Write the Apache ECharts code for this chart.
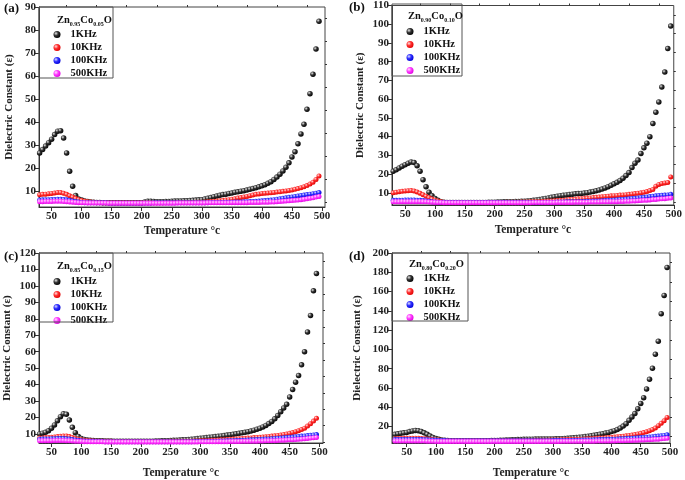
<!DOCTYPE html>
<html><head><meta charset="utf-8">
<script src="https://cdn.jsdelivr.net/npm/echarts@6/dist/echarts.min.js"></script>
<style>html,body{margin:0;padding:0;background:#fff}#c{width:685px;height:480px}</style>
</head><body><div id="c"></div><script>
const temps=[30,35,40,45,50,55,60,65,70,75,80,85,90,95,100,105,110,115,120,125,130,135,140,145,150,155,160,165,170,175,180,185,190,195,200,205,210,215,220,225,230,235,240,245,250,255,260,265,270,275,280,285,290,295,300,305,310,315,320,325,330,335,340,345,350,355,360,365,370,375,380,385,390,395,400,405,410,415,420,425,430,435,440,445,450,455,460,465,470,475,480,485,490,495];
const seriesNames=['1KHz','10KHz','100KHz','500KHz'];
const xTicks=[50,100,150,200,250,300,350,400,450,500];
const xMinor=[75,125,175,225,275,325,375,425,475];
const yTicksA=[10,20,30,40,50,60,70,80,90];
const yTicksB=[10,20,30,40,50,60,70,80,90,100,110];
const yTicksC=[10,20,30,40,50,60,70,80,90,100,110,120];
const yTicksD=[20,40,60,80,100,120,140,160,180,200];

// (a) Zn0.95Co0.05O
const a1k=[26.5,28,29.5,31,32.5,34.5,36,36.2,33,26.5,
18.5,12,8,6.5,6,5.6,5.4,5.2,5.1,5,
5,4.9,4.9,4.9,4.8,4.8,4.8,4.8,4.8,4.8,
4.8,4.8,4.8,4.8,4.9,5.2,5.5,5.5,5.4,5.3,
5.3,5.3,5.4,5.4,5.5,5.6,5.6,5.6,5.7,5.7,
5.8,5.9,6,6.1,6.2,6.5,6.8,7.1,7.5,7.8,
8.1,8.4,8.6,8.9,9.1,9.4,9.6,9.9,10.1,10.4,
10.7,11,11.4,11.8,12.2,12.7,13.3,14,15,16,
17.3,18.7,20.3,22.2,24.8,27,30.5,34.8,39,45.5,
52.3,60.8,71.7,83.8];
const a10k=[8.3,8.5,8.6,8.8,8.9,9.1,9.3,9.3,9,8.5,
7.9,7.3,6.7,6.2,5.8,5.5,5.3,5.2,5.1,5,
5,4.9,4.9,4.9,4.8,4.8,4.8,4.8,4.8,4.8,
4.8,4.8,4.8,4.8,4.8,4.9,4.9,4.9,4.9,4.9,
4.9,4.9,5,5,5,5,5,5,5,5,
5,5,5.1,5.1,5.1,5.2,5.3,5.4,5.5,5.6,
5.7,5.9,6,6.2,6.4,6.6,6.9,7.1,7.4,7.6,
7.9,8.2,8.5,8.7,8.9,9,9.1,9.2,9.3,9.5,
9.6,9.8,10,10.2,10.4,10.7,11,11.4,11.8,12.3,
13,13.8,15,16.5];
const a100k=[6,6.1,6.2,6.2,6.3,6.3,6.4,6.4,6.3,6.1,
5.9,5.6,5.4,5.2,5,4.9,4.9,4.8,4.8,4.8,
4.8,4.8,4.8,4.7,4.7,4.7,4.7,4.7,4.7,4.7,
4.7,4.7,4.7,4.7,4.7,4.7,4.7,4.7,4.8,4.8,
4.8,4.8,4.8,4.8,4.8,4.8,4.8,4.8,4.8,4.8,
4.8,4.8,4.9,4.9,4.9,4.9,4.9,5,5,5,
5,5,5.1,5.1,5.1,5.2,5.2,5.2,5.3,5.3,
5.4,5.4,5.5,5.6,5.7,5.8,5.9,6,6.2,6.4,
6.6,6.8,7,7.2,7.4,7.6,7.8,8,8.2,8.4,
8.6,8.8,9,9.3];
const a500k=[5.3,5.3,5.4,5.4,5.4,5.5,5.5,5.5,5.4,5.3,
5.2,5.1,5,4.9,4.8,4.8,4.7,4.7,4.7,4.7,
4.7,4.7,4.7,4.6,4.6,4.6,4.6,4.6,4.6,4.6,
4.6,4.6,4.6,4.6,4.6,4.6,4.6,4.6,4.6,4.6,
4.6,4.6,4.6,4.6,4.6,4.6,4.7,4.7,4.7,4.7,
4.7,4.7,4.7,4.7,4.7,4.7,4.8,4.8,4.8,4.8,
4.8,4.8,4.8,4.8,4.9,4.9,4.9,4.9,4.9,4.9,
5,5,5,5,5.1,5.1,5.1,5.2,5.2,5.3,
5.4,5.5,5.6,5.7,5.8,5.9,6,6.2,6.4,6.6,
6.8,7,7.3,7.6];

// (b) Zn0.90Co0.10O
const b1k=[21.5,22.3,23.3,24.2,25,25.8,26.5,26.2,24.5,21.5,
17,13.2,10.3,8.5,7,6,5.3,5,4.9,4.8,
4.8,4.8,4.8,4.8,4.8,4.8,4.8,4.9,4.9,4.9,
4.9,4.9,5,5,5,5.1,5.1,5.2,5.2,5.3,
5.3,5.4,5.4,5.5,5.5,5.6,5.8,6,6.2,6.4,
6.7,7,7.3,7.6,7.9,8.2,8.5,8.7,8.9,9.1,
9.3,9.5,9.6,9.7,9.9,10.1,10.4,10.7,11.1,11.5,
12,12.6,13.3,14,14.8,15.6,16.6,17.8,19.2,20.8,
23.5,25.8,27.5,31,34,36.5,40,47,53,58.5,
66.5,74.5,87,99];
const b10k=[10,10.3,10.6,10.8,11,11.1,11.2,11,10.5,9.8,
9,8.2,7.4,6.7,6.1,5.6,5.2,5,4.9,4.9,
4.8,4.8,4.8,4.8,4.8,4.8,4.8,4.8,4.8,4.8,
4.8,4.8,4.8,4.9,4.9,4.9,4.9,4.9,5,5,
5,5,5,5.1,5.1,5.1,5.2,5.2,5.3,5.3,
5.4,5.5,5.6,5.7,5.8,5.9,6,6.1,6.2,6.4,
6.5,6.6,6.8,6.9,7,7.2,7.3,7.5,7.6,7.8,
7.9,8.1,8.2,8.4,8.5,8.6,8.8,8.9,9,9.2,
9.4,9.6,9.8,10,10.3,10.7,11.2,11.8,13.5,14.5,
15,15.3,15.5,18.5];
const b100k=[6,6,6.1,6.1,6.2,6.2,6.2,6.2,6.1,6,
5.9,5.7,5.5,5.3,5.1,5,4.9,4.9,4.8,4.8,
4.8,4.8,4.8,4.8,4.8,4.8,4.8,4.8,4.8,4.8,
4.8,4.8,4.8,4.8,4.8,4.8,4.8,4.8,4.8,4.8,
4.8,4.8,4.8,4.8,4.9,4.9,4.9,4.9,4.9,4.9,
4.9,5,5,5,5,5.1,5.1,5.1,5.2,5.2,
5.2,5.3,5.3,5.4,5.4,5.5,5.5,5.6,5.6,5.7,
5.8,5.9,6,6.1,6.2,6.3,6.4,6.5,6.7,6.8,
7,7.1,7.3,7.5,7.6,7.8,8,8.2,8.4,8.6,
8.7,8.8,8.9,9.2];
const b500k=[5.2,5.2,5.2,5.3,5.3,5.3,5.3,5.3,5.3,5.3,
5.2,5.2,5.1,5,4.9,4.8,4.8,4.7,4.7,4.7,
4.7,4.7,4.7,4.7,4.7,4.7,4.7,4.7,4.7,4.7,
4.7,4.7,4.7,4.7,4.7,4.7,4.7,4.7,4.7,4.7,
4.7,4.7,4.7,4.7,4.7,4.7,4.7,4.8,4.8,4.8,
4.8,4.8,4.8,4.8,4.8,4.9,4.9,4.9,4.9,4.9,
4.9,5,5,5,5,5,5.1,5.1,5.1,5.1,
5.2,5.2,5.2,5.3,5.3,5.3,5.4,5.4,5.5,5.5,
5.6,5.7,5.8,5.9,6,6.1,6.2,6.4,6.5,6.7,
6.8,6.9,7.1,7.3];

// (c) Zn0.85Co0.15O
const c1k=[10,10.5,11,12,13.5,15.5,18,20.5,22.3,22,
18.5,14,10.8,8.5,7.3,6.7,6.3,6.1,6,5.9,
5.8,5.8,5.7,5.7,5.7,5.6,5.6,5.6,5.6,5.5,
5.5,5.5,5.5,5.5,5.5,5.5,5.6,5.6,5.6,5.7,
5.7,5.8,5.8,5.9,6,6.1,6.2,6.3,6.4,6.5,
6.6,6.8,7,7.2,7.4,7.6,7.8,8,8.2,8.4,
8.6,8.8,9,9.3,9.5,9.8,10.1,10.4,10.7,11,
11.4,11.8,12.3,12.9,13.5,14.3,15.2,16.3,17.6,19.2,
21.2,23.5,25.8,28,32.5,37,41.5,45.5,52,60,
72,82,97,107.5];
const c10k=[7.5,7.6,7.8,7.9,8,8.2,8.4,8.6,8.8,8.8,
8.4,7.9,7.3,6.8,6.4,6.1,5.9,5.8,5.7,5.6,
5.6,5.5,5.5,5.5,5.5,5.4,5.4,5.4,5.4,5.4,
5.4,5.4,5.4,5.4,5.4,5.4,5.4,5.4,5.4,5.4,
5.4,5.4,5.4,5.4,5.5,5.5,5.5,5.5,5.5,5.6,
5.6,5.6,5.7,5.7,5.8,5.8,5.9,6,6.1,6.2,
6.3,6.4,6.5,6.6,6.8,6.9,7,7.1,7.3,7.4,
7.5,7.6,7.8,7.9,8,8.2,8.3,8.5,8.7,8.9,
9.1,9.4,9.7,10,10.4,10.9,11.4,12,12.7,13.5,
14.8,16.2,17.8,19.5];
const c100k=[6.8,6.9,7,7,7.1,7.1,7.2,7.2,7.2,7.1,
6.9,6.6,6.3,6.1,5.9,5.7,5.6,5.5,5.5,5.4,
5.4,5.4,5.3,5.3,5.3,5.3,5.3,5.3,5.3,5.3,
5.3,5.3,5.3,5.3,5.3,5.3,5.3,5.3,5.3,5.3,
5.3,5.3,5.3,5.3,5.3,5.3,5.3,5.3,5.3,5.3,
5.3,5.3,5.4,5.4,5.4,5.4,5.5,5.5,5.5,5.6,
5.6,5.7,5.7,5.8,5.8,5.9,6,6,6.1,6.2,
6.3,6.4,6.5,6.6,6.7,6.8,6.9,7,7.1,7.3,
7.4,7.5,7.7,7.8,8,8.1,8.3,8.5,8.7,8.8,
9,9.2,9.4,9.6];
const c500k=[5.8,5.8,5.9,5.9,5.9,6,6,6,6,5.9,
5.8,5.7,5.6,5.5,5.4,5.3,5.3,5.2,5.2,5.2,
5.2,5.2,5.1,5.1,5.1,5.1,5.1,5.1,5.1,5.1,
5.1,5.1,5.1,5.1,5.1,5.1,5.1,5.1,5.1,5.1,
5.1,5.1,5.1,5.1,5.1,5.1,5.1,5.1,5.1,5.1,
5.1,5.1,5.1,5.1,5.2,5.2,5.2,5.2,5.2,5.2,
5.3,5.3,5.3,5.3,5.4,5.4,5.4,5.4,5.5,5.5,
5.5,5.6,5.6,5.6,5.7,5.7,5.8,5.8,5.9,5.9,
6,6.1,6.2,6.3,6.4,6.5,6.6,6.8,6.9,7.1,
7.3,7.5,7.7,7.9];

// (d) Zn0.80Co0.20O
const d1k=[12,12.5,13,13.5,14,14.8,15.5,16,15.8,15,
13.5,12,10.3,8.8,7.6,6.8,6.2,5.8,5.5,5.3,
5.2,5.1,5.1,5,5,5,5,5,5.1,5.1,
5.2,5.3,5.4,5.5,5.6,5.7,5.8,5.9,6,6.1,
6.3,6.4,6.5,6.6,6.8,6.9,7,7,7.1,7.1,
7.1,7.1,7.1,7.2,7.2,7.3,7.4,7.5,7.7,7.9,
8.1,8.4,8.7,9,9.3,9.7,10.1,10.5,11,11.5,
12,12.6,13.3,14,14.8,15.8,17,18.5,20.5,23,
26.5,30,33.5,38.5,44,50,59,69,80.5,95,
108.5,137,156,185];
const d10k=[7.5,7.6,7.7,7.8,7.9,8,8,8,7.9,7.7,
7.4,7.1,6.8,6.5,6.2,6,5.8,5.7,5.6,5.5,
5.5,5.5,5.5,5.5,5.5,5.5,5.5,5.5,5.5,5.5,
5.5,5.5,5.5,5.5,5.5,5.5,5.5,5.5,5.5,5.5,
5.5,5.5,5.6,5.6,5.6,5.7,5.7,5.7,5.8,5.8,
5.8,5.9,5.9,6,6,6.1,6.2,6.3,6.4,6.5,
6.6,6.7,6.8,6.9,7,7.2,7.3,7.5,7.7,7.9,
8.1,8.3,8.5,8.7,8.9,9.2,9.5,9.8,10.1,10.5,
10.9,11.3,11.8,12.4,13,13.8,14.7,15.8,17,18.5,
21,23.5,26,29.5];
const d100k=[6.5,6.5,6.6,6.6,6.6,6.7,6.7,6.7,6.6,6.5,
6.4,6.3,6.1,6,5.8,5.7,5.6,5.5,5.4,5.4,
5.3,5.3,5.3,5.3,5.3,5.3,5.3,5.3,5.3,5.3,
5.3,5.3,5.3,5.3,5.3,5.3,5.3,5.3,5.3,5.3,
5.3,5.3,5.3,5.3,5.3,5.3,5.3,5.3,5.3,5.3,
5.3,5.4,5.4,5.4,5.5,5.5,5.5,5.6,5.6,5.7,
5.7,5.8,5.8,5.9,6,6,6.1,6.2,6.3,6.4,
6.5,6.6,6.7,6.8,6.9,7,7.2,7.3,7.5,7.6,
7.8,8,8.2,8.4,8.6,8.8,9,9.3,9.6,9.9,
10.2,10.5,10.9,11.5];
const d500k=[5,5,5,5.1,5.1,5.1,5.1,5.1,5.1,5,
5,4.9,4.8,4.7,4.6,4.6,4.5,4.5,4.5,4.5,
4.5,4.5,4.5,4.5,4.5,4.5,4.5,4.5,4.5,4.5,
4.5,4.5,4.5,4.5,4.5,4.5,4.5,4.5,4.5,4.5,
4.5,4.5,4.5,4.5,4.5,4.5,4.5,4.5,4.5,4.5,
4.5,4.5,4.6,4.6,4.6,4.6,4.6,4.7,4.7,4.7,
4.7,4.7,4.8,4.8,4.8,4.8,4.9,4.9,4.9,5,
5,5,5.1,5.1,5.2,5.2,5.3,5.3,5.4,5.5,
5.6,5.7,5.8,5.9,6,6.1,6.3,6.4,6.6,6.8,
7,7.3,7.6,8];

const FONT='"Liberation Serif","Times New Roman",serif';
function ball(c0,c1,c2){return {type:'radial',x:0.35,y:0.35,r:0.7,colorStops:[{offset:0,color:c0},{offset:0.45,color:c1},{offset:1,color:c2}]};}
const styles=[
  {color:ball('#e8e8e8','#333','#000'),size:5.5},
  {color:ball('#ffe0e0','#ff3030','#e00000'),size:5},
  {color:ball('#e0e0ff','#3030ff','#0000d8'),size:5},
  {color:ball('#ffe0ff','#ff40ff','#e000e0'),size:5}
];

const panels=[
 {label:'(a)',sub:['0.95','0.05'],grid:{left:39,top:7,width:286,height:200},x:[29,505],y:[3,90],yt:yTicksA,ym:[5,15,25,35,45,55,65,75,85],data:[a1k,a10k,a100k,a500k],
  box:[39,7,74,71],tp:[57,19],lp:[53.5,28.5],yGap:24,xGap:18,lab:[4,9]},
 {label:'(b)',sub:['0.90','0.10'],grid:{left:392,top:4,width:285,height:201},x:[28,500],y:[3.5,110],yt:yTicksB,ym:[5,15,25,35,45,55,65,75,85,95,105],data:[b1k,b10k,b100k,b500k],
  box:[392,4,70,72],tp:[408,15],lp:[406.5,25.5],yGap:26,xGap:19,lab:[349,8]},
 {label:'(c)',sub:['0.85','0.15'],grid:{left:39,top:253,width:284,height:195},x:[29,506],y:[4.5,120],yt:yTicksC,ym:[5,15,25,35,45,55,65,75,85,95,105,115],data:[c1k,c10k,c100k,c500k],
  box:[39,253,74,69],tp:[57,265],lp:[53.5,275.5],yGap:26,xGap:24,lab:[4,257]},
 {label:'(d)',sub:['0.80','0.20'],grid:{left:392,top:253,width:278,height:197},x:[25,500],y:[3,200],yt:yTicksD,ym:[10,30,50,70,90,110,130,150,170,190],data:[d1k,d10k,d100k,d500k],
  box:[392,253,76,68],tp:[409,263],lp:[406.5,272.5],yGap:29,xGap:24,lab:[349,257]}
];

const option={animation:false,backgroundColor:'#fff',grid:[],xAxis:[],yAxis:[],series:[],legend:[],graphic:[]};
const lblStyle={fontFamily:FONT,fontWeight:'bold',fontSize:11,color:'#222'};
panels.forEach((p,i)=>{
  option.grid.push(Object.assign({show:true,borderColor:'#444',borderWidth:1,backgroundColor:'transparent'},p.grid));
  const axLine={show:true,lineStyle:{color:'#333',width:1}};
  option.xAxis.push({type:'value',gridIndex:i,min:p.x[0],max:p.x[1],axisLine:axLine,splitLine:{show:false},
    axisTick:{show:true,inside:false,length:4,customValues:xTicks,lineStyle:{color:'#333'}},
    axisLabel:Object.assign({customValues:xTicks,margin:4},lblStyle),
    name:'Temperature °c',nameLocation:'middle',nameGap:p.xGap,nameTextStyle:{fontFamily:FONT,fontWeight:'bold',fontSize:11.5,color:'#222'}});
  option.xAxis.push({type:'value',gridIndex:i,min:p.x[0],max:p.x[1],axisLine:{show:false},splitLine:{show:false},
    axisTick:{show:true,length:2,customValues:xMinor,lineStyle:{color:'#333'}},axisLabel:{show:false}});
  option.yAxis.push({type:'value',gridIndex:i,min:p.y[0],max:p.y[1],axisLine:axLine,splitLine:{show:false},
    axisTick:{show:true,inside:false,length:4,customValues:p.yt,lineStyle:{color:'#333'}},
    axisLabel:Object.assign({customValues:p.yt,margin:3},lblStyle),
    name:'Dielectric Constant (ε)',nameLocation:'middle',nameGap:p.yGap,nameTextStyle:{fontFamily:FONT,fontWeight:'bold',fontSize:11,color:'#222'}});
  option.yAxis.push({type:'value',gridIndex:i,min:p.y[0],max:p.y[1],axisLine:{show:false},splitLine:{show:false},
    axisTick:{show:true,length:2,customValues:p.ym,lineStyle:{color:'#333'}},axisLabel:{show:false}});
  p.data.forEach((vals,k)=>{
    option.series.push({type:'scatter',name:seriesNames[k],xAxisIndex:2*i,yAxisIndex:2*i,
      symbol:'circle',symbolSize:styles[k].size,itemStyle:{color:styles[k].color,opacity:1},
      emphasis:{disabled:true},z:2+k,
      data:temps.map((t,j)=>[t,vals[j]])});
  });
  option.legend.push({orient:'vertical',left:p.lp[0],top:p.lp[1],data:seriesNames,icon:'circle',itemWidth:7,itemHeight:7,itemGap:1,
    selectedMode:false,padding:0,textStyle:{fontFamily:FONT,fontWeight:'bold',fontSize:10.5,color:'#111',lineHeight:12,padding:[0,0,0,5]}});
  option.graphic.push({type:'rect',shape:{x:p.box[0],y:p.box[1],width:p.box[2],height:p.box[3]},style:{fill:'none',stroke:'#555',lineWidth:1},z:5,silent:true});
  option.graphic.push({type:'text',x:p.tp[0],y:p.tp[1],z:6,silent:true,style:{
    text:'{n|Zn}{s|'+p.sub[0]+'}{n|Co}{s|'+p.sub[1]+'}{n|O}',verticalAlign:'middle',
    rich:{n:{fontFamily:FONT,fontWeight:'bold',fontSize:10.5,fill:'#111',lineHeight:13,verticalAlign:'bottom'},
          s:{fontFamily:FONT,fontWeight:'bold',fontSize:6,fill:'#111',lineHeight:9,verticalAlign:'bottom',padding:[0,0,-2,0]}}}});
  option.graphic.push({type:'text',x:p.lab[0],y:p.lab[1],z:6,silent:true,style:{text:p.label,fontFamily:FONT,fontWeight:'bold',fontSize:13,fill:'#111',verticalAlign:'middle'}});
});
const chart=echarts.init(document.getElementById('c'),null,{renderer:'canvas'});
chart.setOption(option);
</script></body></html>
